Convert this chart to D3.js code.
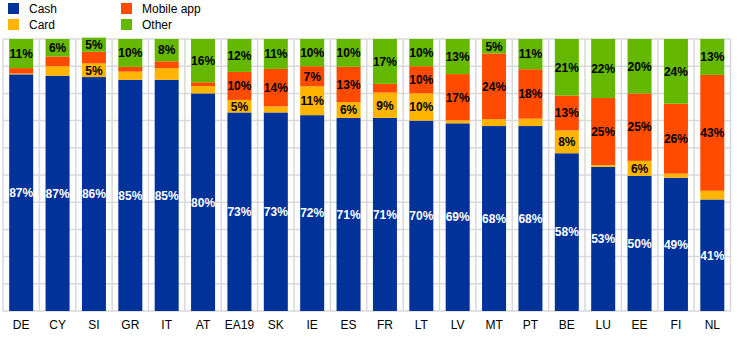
<!DOCTYPE html>
<html><head><meta charset="utf-8">
<script src="https://cdn.jsdelivr.net/npm/d3@7"></script>
<style>body{margin:0;background:#fff;} svg{display:block;font-family:"Liberation Sans",Arial,sans-serif;}</style>
</head><body><svg id="c" width="744" height="344"></svg>
<script>
const categories = ["DE","CY","SI","GR","IT","AT","EA19","SK","IE","ES","FR","LT","LV","MT","PT","BE","LU","EE","FI","NL"];
const cash   = [87,86.5,86,85,85,80,73,73,72,71,71,70,69,68,68,58,53,49.7,49,41];
const card   = [0.3,3.5,5,3,4.3,2.7,4.6,2.2,10.6,5.8,9.3,10,1.1,2.5,2.7,8.4,0.7,5.5,1.5,3.2];
const mobile = [2,3.6,4.3,1.8,2.5,1.4,10.3,13.8,7.4,13,3.2,10,17,24.2,18.2,12.8,24.6,24.8,25.7,42.6];
const other  = [10.7,6.4,5.2,10.2,8.2,15.9,12.1,11,10,10.2,16.5,10,12.9,5.3,11.1,20.8,21.7,20,23.8,13.2];
const seriesNames = ["Cash","Card","Mobile app","Other"];
const seriesColors = ["#003299","#FFB400","#FF4B00","#65B800"];
const yTicks = [0,10,20,30,40,50,60,70,80,90,100];

const svg = d3.select("#c");
const x = d3.scaleBand().domain(categories).range([3,730.5]).paddingInner(0.34).paddingOuter(0.17);
const y = d3.scaleLinear().domain([0,100]).range([311,39]);

const data = categories.map((c,i)=>({cat:c,Cash:cash[i],Card:card[i],"Mobile app":mobile[i],Other:other[i]}));
const stack = d3.stack().keys(seriesNames)(data);

// gridlines
const g = svg.append("g");
g.selectAll("line.h").data(yTicks).join("line")
  .attr("x1",3).attr("x2",730.5).attr("y1",d=>y(d)).attr("y2",d=>y(d))
  .attr("stroke","#d9d9d9").attr("stroke-width",1.5);
const step = x.step();
const bounds = d3.range(categories.length+1).map(i=>3+i*step);
g.selectAll("line.v").data(bounds).join("line")
  .attr("x1",d=>d).attr("x2",d=>d).attr("y1",39).attr("y2",311)
  .attr("stroke","#d9d9d9").attr("stroke-width",1.5);

// bars
stack.forEach((s,si)=>{
  svg.append("g").selectAll("rect").data(s).join("rect")
    .attr("x",d=>x(d.data.cat)).attr("width",x.bandwidth())
    .attr("y",d=>y(d[1])).attr("height",d=>y(d[0])-y(d[1]))
    .attr("fill",seriesColors[si]);
});

// labels
stack.forEach((s,si)=>{
  svg.append("g").selectAll("text").data(s.filter(d=>(d[1]-d[0])>=4.5)).join("text")
    .attr("x",d=>x(d.data.cat)+x.bandwidth()/2)
    .attr("y",d=>(y(d[0])+y(d[1]))/2)
    .attr("dy","0.36em").attr("text-anchor","middle")
    .attr("font-size",12).attr("font-weight","bold")
    .attr("fill",si===0?"#fff":"#000")
    .text(d=>Math.round(d[1]-d[0])+"%");
});

// x axis labels
const xAxis = d3.axisBottom(x).tickSize(0).tickPadding(9);
const ax = svg.append("g").attr("transform","translate(0,311)").call(xAxis);
ax.select(".domain").remove();
ax.selectAll("text").attr("font-size",12).attr("font-family","'Liberation Sans',Arial,sans-serif").attr("fill","#000");

// legend
const legPos = [[8,3],[8,19],[121,3],[121,19]];
seriesNames.forEach((n,i)=>{
  const [lx,ly]=legPos[i];
  svg.append("rect").attr("x",lx).attr("y",ly).attr("width",11).attr("height",11).attr("fill",seriesColors[i]);
  svg.append("text").attr("x",lx+21).attr("y",ly+10).attr("font-size",12).attr("fill","#000").text(n);
});
</script></body></html>
